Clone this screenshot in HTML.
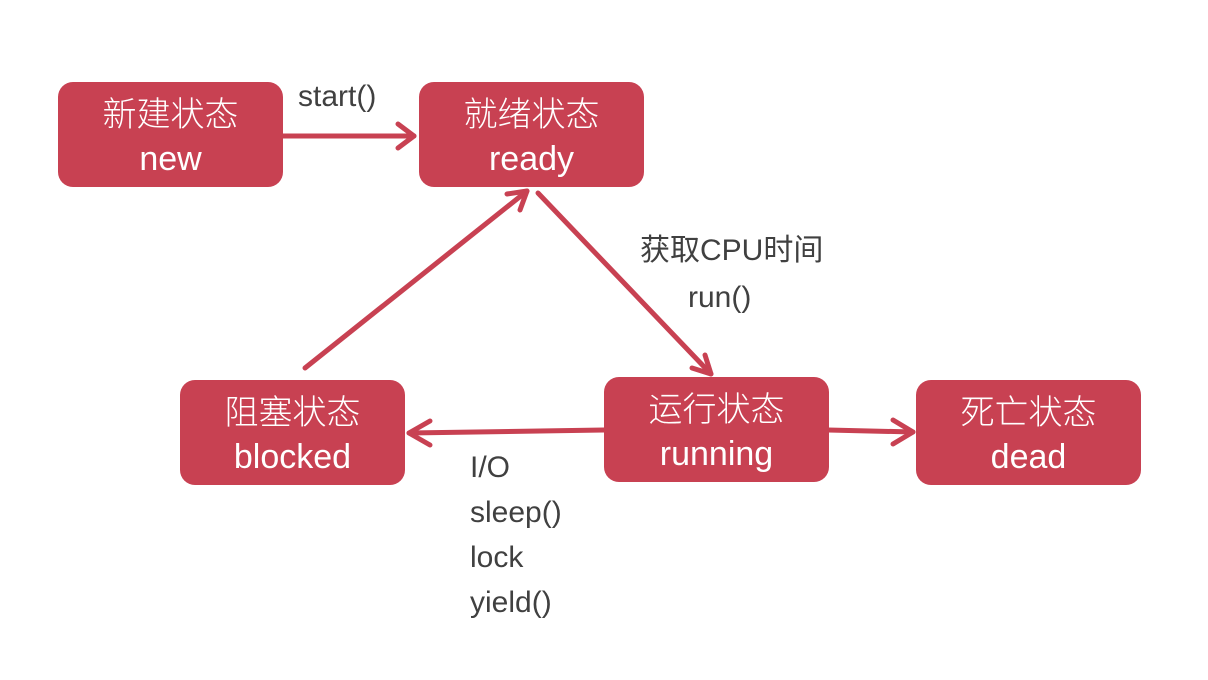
<!DOCTYPE html>
<html><head><meta charset="utf-8"><style>
body{margin:0;width:1208px;height:680px;background:#fff;overflow:hidden;position:relative;font-family:"Liberation Sans","Noto Sans CJK SC",sans-serif}
.b{position:absolute;background:#c84152;border-radius:15px;color:#fff;text-align:center;width:225px;height:105px}
.b .c{position:absolute;left:0;right:0;top:13px;font-size:34px;line-height:40px;font-weight:300}
.b .e{position:absolute;left:0;right:0;top:57px;font-size:34px;line-height:40px}
.l{position:absolute;color:#404040;font-size:30px;line-height:45px}
svg{position:absolute;left:0;top:0}
</style></head><body>
<svg width="1208" height="680">
<g stroke="#c84152" stroke-width="5" fill="none" stroke-linecap="round" stroke-linejoin="round">
<line x1="283" y1="136" x2="414" y2="136"/><polyline points="398,124 414,136 398,148"/>
<line x1="538" y1="193" x2="711" y2="374"/><polyline points="705,355 711,374 692,368"/>
<line x1="305" y1="368" x2="527" y2="191"/><polyline points="507,194 527,191 520,210"/>
<line x1="604" y1="430" x2="409" y2="433"/><polyline points="430,421 409,433 430,445"/>
<line x1="828" y1="430" x2="913" y2="432"/><polyline points="893,420 913,432 893,444"/>
</g></svg>
<div class="b" style="left:58px;top:82px"><div class="c">新建状态</div><div class="e">new</div></div>
<div class="b" style="left:419px;top:82px"><div class="c">就绪状态</div><div class="e">ready</div></div>
<div class="b" style="left:180px;top:380px"><div class="c">阻塞状态</div><div class="e">blocked</div></div>
<div class="b" style="left:604px;top:377px"><div class="c">运行状态</div><div class="e">running</div></div>
<div class="b" style="left:916px;top:380px"><div class="c">死亡状态</div><div class="e">dead</div></div>
<div class="l" style="left:298px;top:74px">start()</div>
<div class="l" style="left:640px;top:228px">获取CPU时间</div>
<div class="l" style="left:688px;top:275px">run()</div>
<div class="l" style="left:470px;top:445px">I/O<br>sleep()<br>lock<br>yield()</div>
</body></html>
